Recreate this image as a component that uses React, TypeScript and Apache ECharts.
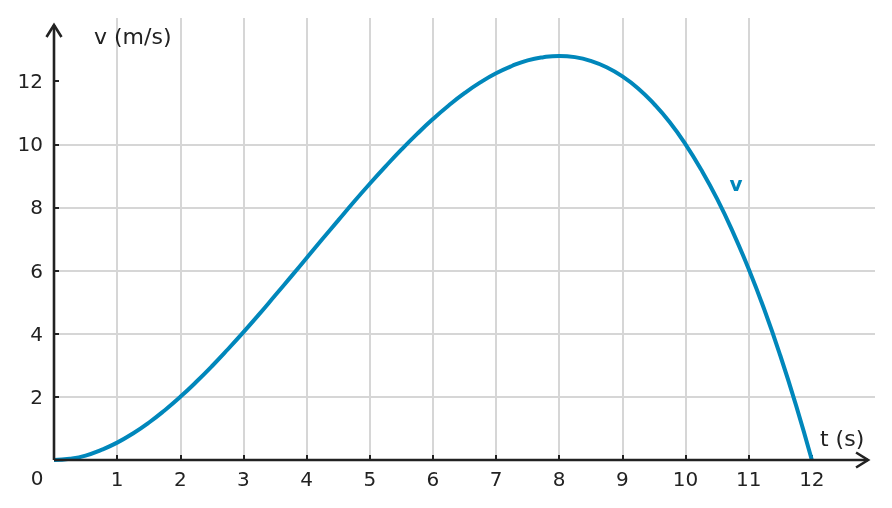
import React, { useEffect, useRef } from "react";
import * as echarts from "echarts";

const tValues = [
  0, 0.25, 0.5, 0.75, 1, 1.25, 1.5, 1.75, 2, 2.25, 2.5, 2.75, 3, 3.25, 3.5, 3.75, 4, 4.25, 4.5, 4.75, 5, 5.25, 5.5, 5.75,
  6, 6.25, 6.5, 6.75, 7, 7.25, 7.5, 7.75, 8, 8.25, 8.5, 8.75, 9, 9.25, 9.5, 9.75, 10, 10.25, 10.5, 10.75, 11, 11.25, 11.5, 11.75, 12,
];
const vValues = [
  0, 0.04, 0.14, 0.32, 0.55, 0.84, 1.18, 1.57, 2.0, 2.47, 2.97, 3.5, 4.05, 4.62, 5.21, 5.8, 6.4, 7.0, 7.59, 8.18, 8.75, 9.3, 9.83, 10.33,
  10.8, 11.23, 11.62, 11.96, 12.25, 12.48, 12.66, 12.76, 12.8, 12.76, 12.64, 12.44, 12.15, 11.77, 11.28, 10.7, 10.0, 9.19, 8.27, 7.22, 6.05, 4.75, 3.31, 1.73, 0,
];
const xTickLabels = [1, 2, 3, 4, 5, 6, 7, 8, 9, 10, 11, 12];
const yTickLabels = [2, 4, 6, 8, 10, 12];
const xAxisTitle = "t (s)";
const yAxisTitle = "v (m/s)";
const seriesName = "v";
const originLabel = "0";

const FONT = "DejaVu Sans";
const TEXT = "#222222";
const BLUE = "#0087bb";
const GRID = "#d6d6d6";

export default function App() {
  const ref = useRef<HTMLDivElement>(null);
  useEffect(() => {
    if (!ref.current) return;
    const chart = echarts.init(ref.current, undefined, { renderer: "svg" });
    chart.setOption({
      animation: false,
      grid: { left: 54, right: 17, top: 18, bottom: 48 },
      xAxis: {
        type: "value",
        min: 0,
        max: 13,
        interval: 1,
        axisLine: { show: false },
        axisTick: { show: true, inside: true, length: 5, customValues: xTickLabels, lineStyle: { color: TEXT, width: 2 } },
        axisLabel: { customValues: xTickLabels, fontSize: 20, fontFamily: FONT, color: TEXT, margin: 9 },
        splitLine: { show: true, showMaxLine: false, lineStyle: { color: GRID, width: 2 } },
      },
      yAxis: {
        type: "value",
        min: 0,
        max: 14,
        interval: 2,
        axisLine: { show: false },
        axisTick: { show: true, inside: true, length: 5, customValues: yTickLabels, lineStyle: { color: TEXT, width: 2 } },
        axisLabel: { customValues: yTickLabels, fontSize: 20, fontFamily: FONT, color: TEXT, margin: 11 },
        splitLine: { show: true, showMaxLine: false, lineStyle: { color: GRID, width: 2 } },
      },
      series: [
        {
          name: seriesName,
          type: "line",
          data: tValues.map((t, i) => [t, vValues[i]]),
          smooth: true,
          showSymbol: false,
          clip: false,
          z: 5,
          lineStyle: { color: BLUE, width: 4 },
        },
      ],
    });

    const o = chart.convertToPixel({ gridIndex: 0 }, [0, 0]) as number[];
    const xe = chart.convertToPixel({ gridIndex: 0 }, [12.89, 0]) as number[];
    const ye = chart.convertToPixel({ gridIndex: 0 }, [0, 13.78]) as number[];
    const lbl = chart.convertToPixel({ gridIndex: 0 }, [10.8, 8.75]) as number[];
    const axisStyle = { stroke: TEXT, lineWidth: 2.6, fill: null, lineJoin: "miter" };
    chart.setOption({
      graphic: [
        { type: "polyline", z: 10, shape: { points: [[o[0], o[1]], [xe[0], xe[1]]] }, style: axisStyle },
        { type: "polyline", z: 10, shape: { points: [[xe[0] - 12, xe[1] - 7.5], [xe[0], xe[1]], [xe[0] - 12, xe[1] + 7.5]] }, style: axisStyle },
        { type: "polyline", z: 10, shape: { points: [[o[0], o[1]], [ye[0], ye[1]]] }, style: axisStyle },
        { type: "polyline", z: 10, shape: { points: [[ye[0] - 7.5, ye[1] + 12], [ye[0], ye[1]], [ye[0] + 7.5, ye[1] + 12]] }, style: axisStyle },
        { type: "text", z: 10, x: 94, y: 36, style: { text: yAxisTitle, font: `22px '${FONT}'`, fill: TEXT, verticalAlign: "middle", align: "left" } },
        { type: "text", z: 10, x: 820, y: 438, style: { text: xAxisTitle, font: `22px '${FONT}'`, fill: TEXT, verticalAlign: "middle", align: "left" } },
        { type: "text", z: 10, x: 37, y: 478, style: { text: originLabel, font: `20px '${FONT}'`, fill: TEXT, verticalAlign: "middle", align: "center" } },
        { type: "text", z: 10, x: lbl[0], y: lbl[1], style: { text: seriesName, font: `bold 20px '${FONT}'`, fill: BLUE, verticalAlign: "middle", align: "center" } },
      ],
    });
    return () => chart.dispose();
  }, []);
  return <div ref={ref} style={{ position: "fixed", left: 0, top: 0, width: 892, height: 508 }} />;
}
